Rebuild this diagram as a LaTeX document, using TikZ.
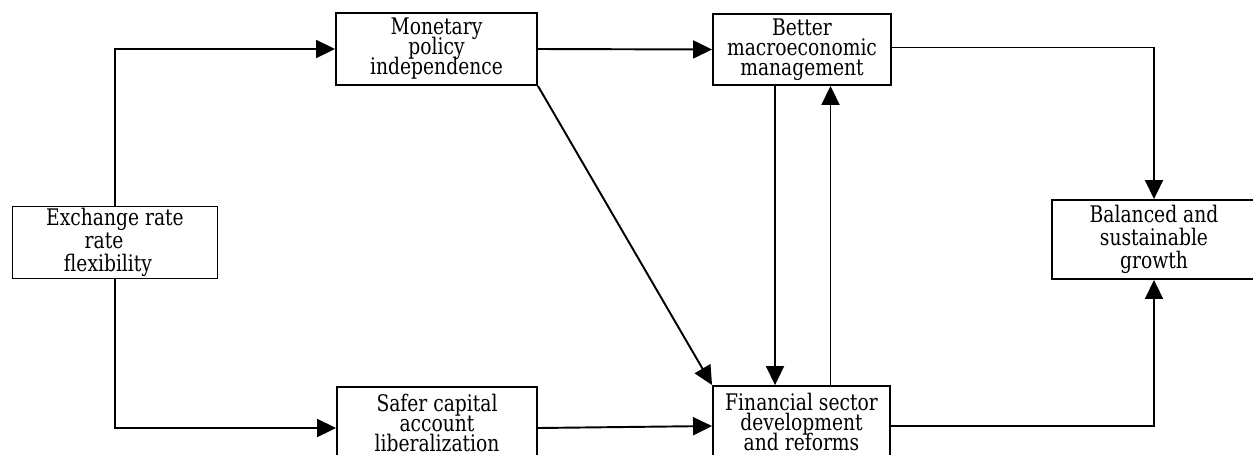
\documentclass[tikz,border=0pt]{standalone}
\usepackage{fontspec}
\newfontfamily\boxfont[FakeStretch=0.91]{DejaVu Serif Condensed}
\newcommand\boxtextnarrow{\boxfont\fontsize{13}{11.4}\selectfont\lineskiplimit=-20pt\relax}
\newcommand\boxtextwide{\boxfont\fontsize{13}{13}\selectfont\lineskiplimit=-20pt\relax}
\usetikzlibrary{arrows.meta}
\tikzset{
  box/.style={draw, line width=1.1pt, align=center, inner sep=0pt, font=\boxtextnarrow},
  wide leading/.style={font=\boxtextwide},
  arr/.style={line width=1.1pt, -{Triangle[length=0.38cm,width=0.36cm]}}
}
\begin{document}
\begin{tikzpicture}[x=0.02cm,y=-0.02cm]
\useasboundingbox (0,0) rectangle (1253,454);
\node[box, wide leading, minimum width=4.1cm, minimum height=1.44cm] (ex) at (115,242.5)
  {Exchange rate\\rate\hspace*{0.44cm}\null\\flexibility\hspace*{0.28cm}\null};
\node[box, minimum width=4.02cm, minimum height=1.44cm] (mon) at (436.5,49)
  {Monetary\\policy\\independence};
\node[box, minimum width=4.0cm, minimum height=1.44cm] (saf) at (437,423)
  {Safer capital\\account\\liberalization};
\node[box, minimum width=3.56cm, minimum height=1.42cm] (bet) at (802,49.5)
  {Better\\macroeconomic\\management};
\node[box, minimum width=3.54cm, minimum height=1.44cm] (fin) at (801.5,422)
  {Financial sector\\development\\and reforms};
\node[box, wide leading, minimum width=4.08cm, minimum height=1.58cm] (bal) at (1154,239.5)
  {Balanced and\\sustainable\\growth};

\draw[arr] (ex.north) |- (mon.west);
\draw[arr] (ex.south) |- ([yshift=-0.1cm]saf.west);
\draw[arr] (mon.east) -- (bet.west);
\draw[arr] (mon.south east) -- (fin.north west);
\draw[arr] ([yshift=-0.1cm]saf.east) -- ([yshift=-0.08cm]fin.west);
\draw[arr] ([xshift=-0.54cm]bet.south) -- ([xshift=-0.54cm]bet.south |- fin.north);
\draw[arr] ([xshift=0.58cm]fin.north) -- ([xshift=0.58cm]fin.north |- bet.south);
\draw[arr] ([yshift=0.04cm]bet.east) -| (bal.north);
\draw[arr] ([yshift=-0.08cm]fin.east) -| (bal.south);
\end{tikzpicture}
\end{document}
